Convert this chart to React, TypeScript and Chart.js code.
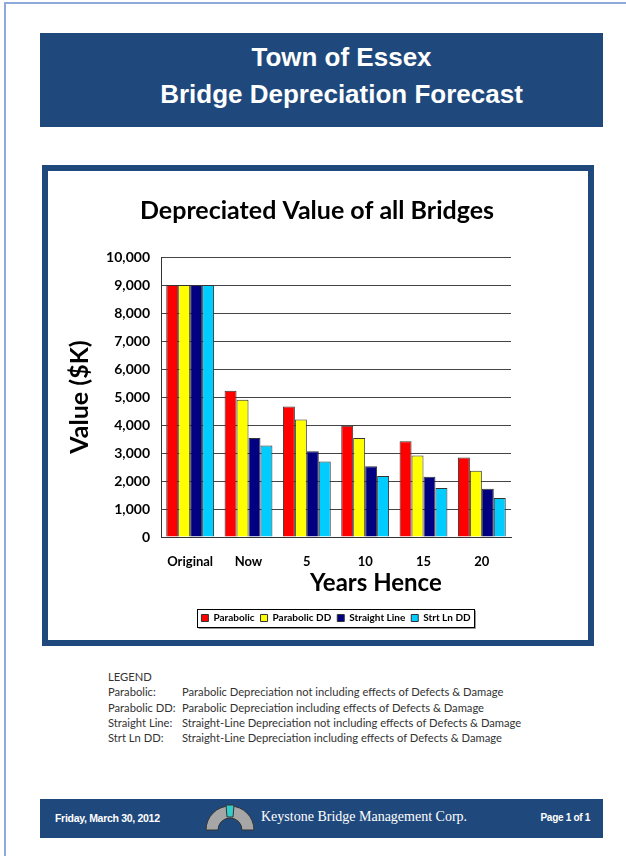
import React, { useEffect, useRef } from 'react';
import { Chart, registerables } from 'chart.js';

Chart.register(...registerables);

// ---------- data ----------
const categories = ['Original', 'Now', '5', '10', '15', '20'];
const seriesNames = ['Parabolic', 'Parabolic DD', 'Straight Line', 'Strt Ln DD'];
const parabolic = [9000, 5220, 4660, 3970, 3420, 2840];
const parabolicDD = [9000, 4900, 4200, 3540, 2910, 2370];
const straightLine = [9000, 3540, 3060, 2530, 2150, 1720];
const strtLnDD = [9000, 3270, 2700, 2180, 1750, 1390];
const seriesColors = ['#FF0000', '#FFFF00', '#000080', '#00CCFF'];
const yMin = 0;
const yMax = 10000;
const yStep = 1000;

const chartTitle = 'Depreciated Value of all Bridges';
const xTitle = 'Years Hence';
const yTitle = 'Value ($K)';

const legendRows = [
  ['Parabolic:', 'Parabolic Depreciation not including effects of Defects & Damage'],
  ['Parabolic DD:', 'Parabolic Depreciation including effects of Defects & Damage'],
  ['Straight Line:', 'Straight-Line Depreciation not including effects of Defects & Damage'],
  ['Strt Ln DD:', 'Straight-Line Depreciation including effects of Defects & Damage'],
];

const NAVY = '#1F497D';
const FONT = 'Lato, "Open Sans", sans-serif';

const legendBoxPlugin = {
  id: 'legendBox',
  afterDraw(chart: any) {
    const lg = chart.legend;
    if (!lg || !lg.legendHitBoxes || !lg.legendHitBoxes.length) return;
    const hb = lg.legendHitBoxes;
    let l = Infinity, r = -Infinity, t = Infinity, b = -Infinity;
    hb.forEach((h: any) => {
      l = Math.min(l, h.left);
      r = Math.max(r, h.left + h.width);
      t = Math.min(t, h.top);
      b = Math.max(b, h.top + h.height);
    });
    const ctx = chart.ctx;
    ctx.save();
    const x0 = Math.round(l - 4) + 0.5;
    const y0 = Math.round(t - 4) + 0.5;
    const w = Math.round(r - l + 8);
    const h = Math.round(b - t + 8);
    ctx.strokeStyle = '#999';
    ctx.lineWidth = 1;
    ctx.beginPath();
    ctx.moveTo(x0 + 1, y0 + h + 1);
    ctx.lineTo(x0 + w + 1, y0 + h + 1);
    ctx.lineTo(x0 + w + 1, y0 + 1);
    ctx.stroke();
    ctx.strokeStyle = '#000';
    ctx.strokeRect(x0, y0, w, h);
    ctx.restore();
  },
};

const xTitlePlugin = {
  id: 'xTitleOffset',
  afterDraw(chart: any) {
    const ctx = chart.ctx;
    const area = chart.chartArea;
    const xs = chart.scales.x;
    ctx.save();
    ctx.font = `bold 24px ${FONT}`;
    ctx.fillStyle = '#000';
    ctx.textAlign = 'center';
    ctx.textBaseline = 'middle';
    ctx.fillText(xTitle, area.left + area.width * 0.614, xs.top + 46);
    ctx.restore();
  },
};

function BarChart() {
  const ref = useRef<HTMLCanvasElement>(null);
  useEffect(() => {
    if (!ref.current) return;
    Chart.defaults.font.family = FONT;
    const seriesData = [parabolic, parabolicDD, straightLine, strtLnDD];
    const chart = new Chart(ref.current, {
      type: 'bar',
      data: {
        labels: categories,
        datasets: seriesNames.map((name, i) => ({
          label: name,
          data: seriesData[i],
          backgroundColor: seriesColors[i],
          borderColor: '#333333',
          borderWidth: 1,
          categoryPercentage: 0.82,
          barPercentage: 1.0,
        })),
      },
      options: {
        animation: false,
        responsive: false,
        maintainAspectRatio: false,
        layout: { padding: { left: 10, right: 12, top: 0, bottom: 7 } },
        plugins: {
          title: {
            display: true,
            text: chartTitle,
            color: '#000',
            font: { size: 25, weight: 'bold' },
            padding: { top: 25, bottom: 31 },
          },
          legend: {
            position: 'bottom',
            fullSize: false,
            labels: {
              boxWidth: 7,
              boxHeight: 7,
              padding: 6,
              color: '#000',
              font: { size: 10, weight: 'bold' },
            },
          },
          tooltip: { enabled: false },
        },
        scales: {
          x: {
            grid: { display: false, drawTicks: false },
            border: { display: true, color: '#333' },
            ticks: { color: '#000', font: { size: 13, weight: 'bold' }, padding: 17, maxRotation: 0 },
            afterFit: (s: any) => { s.height = 70; },
          },
          y: {
            min: yMin,
            max: yMax,
            ticks: {
              stepSize: yStep,
              color: '#000',
              padding: 11,
              font: { size: 14, weight: 'bold' },
              callback: (v: any) => Number(v).toLocaleString('en-US'),
            },
            grid: { color: '#444', drawTicks: false },
            border: { display: true, color: '#333' },
            title: {
              display: true,
              text: yTitle,
              color: '#000',
              font: { size: 25, weight: 'bold' },
              padding: { top: 7, bottom: 0 },
            },
            afterFit: (s: any) => { s.width = 103; },
          },
          y2: {
            position: 'right',
            display: true,
            min: yMin,
            max: yMax,
            grid: { display: false },
            ticks: { display: false },
            border: { display: false },
            afterFit: (s: any) => { s.width = 65; },
          },
        },
      } as any,
      plugins: [legendBoxPlugin, xTitlePlugin],
    });
    return () => chart.destroy();
  }, []);
  return <canvas ref={ref} width={540} height={469} style={{ display: 'block' }} />;
}

export default function App() {
  return (
    <div style={{ position: 'absolute', left: 0, top: 0, width: 626, height: 856, background: '#fff', overflow: 'hidden' }}>
      {/* page border */}
      <div style={{ position: 'absolute', left: 4, top: 2, width: 700, height: 900, borderLeft: '2px solid #8EA9DB', borderTop: '2px solid #8EA9DB' }} />
      {/* header */}
      <div style={{
        position: 'absolute', left: 40, top: 33, width: 563, height: 94, background: NAVY,
        color: '#fff', fontFamily: '"Liberation Sans", Arial, sans-serif', fontWeight: 'bold', fontSize: 26,
        textAlign: 'center', boxSizing: 'border-box', paddingTop: 6, paddingLeft: 40, lineHeight: '37px',
      }}>
        <div>Town of Essex</div>
        <div>Bridge Depreciation Forecast</div>
      </div>
      {/* chart frame */}
      <div style={{ position: 'absolute', left: 42, top: 165, width: 552, height: 481, border: `6px solid ${NAVY}`, boxSizing: 'border-box', background: '#fff' }}>
        <BarChart />
      </div>
      {/* text legend */}
      <div style={{ position: 'absolute', left: 108, top: 669, fontFamily: FONT, fontSize: 11.2, color: '#333', lineHeight: '15.3px' }}>
        <div>LEGEND</div>
        {legendRows.map((r) => (
          <div key={r[0]} style={{ display: 'flex' }}>
            <span style={{ width: 74, flex: 'none' }}>{r[0]}</span>
            <span>{r[1]}</span>
          </div>
        ))}
      </div>
      {/* footer */}
      <div style={{ position: 'absolute', left: 40, top: 799, width: 563, height: 39, background: NAVY, color: '#fff' }}>
        <div style={{ position: 'absolute', left: 15, top: 13, fontFamily: '"Liberation Sans", Arial, sans-serif', fontWeight: 'bold', fontSize: 10.5, letterSpacing: -0.3 }}>
          Friday, March 30, 2012
        </div>
        <svg style={{ position: 'absolute', left: 164, top: 5 }} width={52} height={28} viewBox="0 0 52 28">
          <path d="M 2 26 A 24 24 0 0 1 50 26 L 38 26 A 12 12 0 0 0 14 26 Z" fill="#A6A6A6" stroke="#333" strokeWidth={1} />
          <path d="M 22 1 L 30 1 L 29 13 L 23 13 Z" fill="#33CCCC" stroke="#333" strokeWidth={1} />
        </svg>
        <div style={{ position: 'absolute', left: 221, top: 10, fontFamily: '"Liberation Serif", "DejaVu Serif", serif', fontSize: 14 }}>
          Keystone Bridge Management Corp.
        </div>
        <div style={{ position: 'absolute', right: 13, top: 13, fontFamily: '"Liberation Sans", Arial, sans-serif', fontWeight: 'bold', fontSize: 10, letterSpacing: -0.3 }}>
          Page 1 of 1
        </div>
      </div>
    </div>
  );
}
